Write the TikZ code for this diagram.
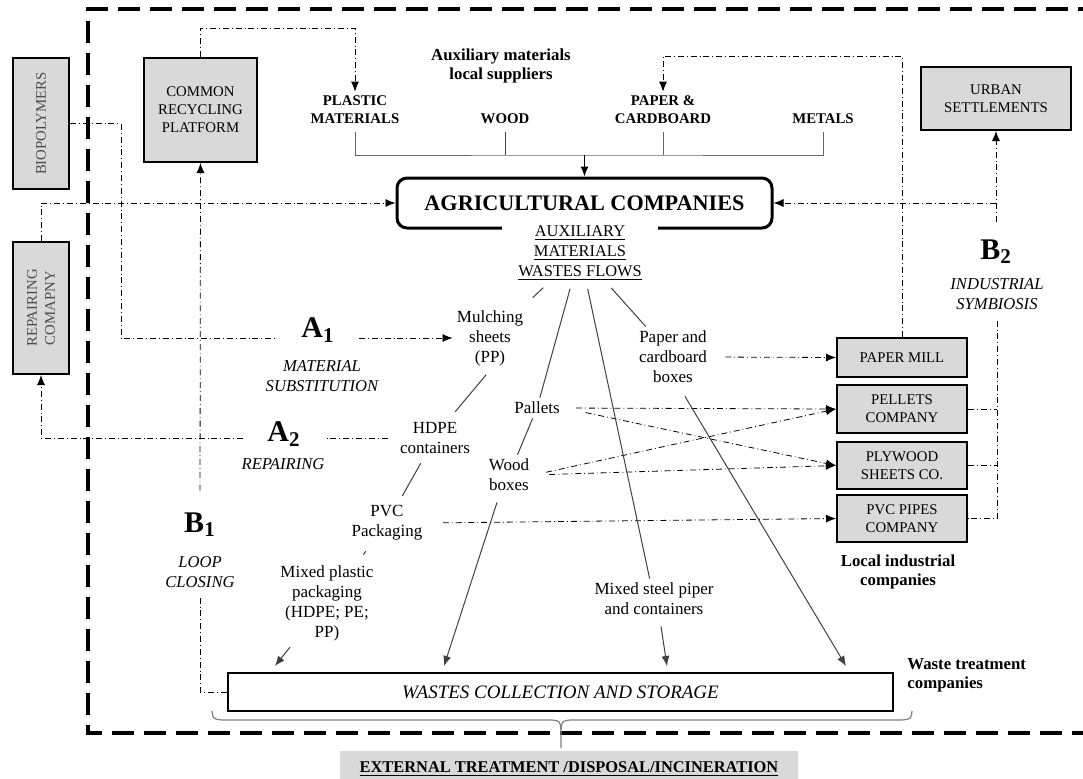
\documentclass[tikz,border=0pt]{standalone}
\usepackage{fontspec}
\setmainfont{Liberation Serif}
\usetikzlibrary{arrows.meta}

\definecolor{boxgray}{HTML}{D9D9D9}
\newcommand{\fsz}[2]{\fontsize{#1}{#2}\selectfont}

\tikzset{
  gbox/.style={draw, line width=1pt, fill=boxgray, inner sep=0pt, align=center, font=\fsz{7.4}{9}},
  txt/.style={align=center, inner sep=2pt, font=\fsz{8.5}{10}},
  btxt/.style={align=center, inner sep=2pt, font=\fsz{8.4}{9.5}\bfseries},
  ctxt/.style={align=center, inner sep=2pt, font=\fsz{7.4}{9}\bfseries},
  itxt/.style={align=center, inner sep=2pt, font=\fsz{8.3}{9.6}\itshape},
  big/.style={inner xsep=12pt, inner ysep=2pt, font=\fsz{15}{17}\bfseries},
  dd/.style={line width=0.4pt, dash pattern=on 3pt off 1.5pt on 0.4pt off 1.5pt},
  tip/.style={-{Latex[length=5pt,width=4pt]}},
  sline/.style={draw=black!75, line width=0.5pt},
  gline/.style={draw=black!60, line width=0.5pt},
}

\begin{document}
\begin{tikzpicture}[x=0.5pt, y=-0.5pt]
  \useasboundingbox (0,0) rectangle (1083,778);
  \clip (0,0) rectangle (1083,778);

  % outer frame
  \draw[line width=1.8pt, dash pattern=on 11pt off 5pt] (1100,9) -- (88,9) -- (88,733) -- (1100,733);

  % grey boxes
  \node[gbox, minimum width=28pt, minimum height=65.5pt] (bio) at (41,123.5) {};
  \node[rotate=90, font=\fsz{7.4}{9}, text=black!70] at (bio) {BIOPOLYMERS};
  \node[gbox, minimum width=28pt, minimum height=66pt] (rep) at (41,308) {};
  \node[rotate=90, align=center, font=\fsz{7.4}{9}, text=black!70] at (rep) {REPAIRING\\COMAPNY};
  \node[gbox, minimum width=56.5pt, minimum height=52pt] (crp) at (200.5,110) {COMMON\\RECYCLING\\PLATFORM};
  \node[gbox, minimum width=75pt, minimum height=31.5pt] (urban) at (996,98.5) {URBAN\\SETTLEMENTS};
  \node[gbox, minimum width=65pt, minimum height=19.5pt] (pmill) at (902,357.5) {PAPER MILL};
  \node[gbox, minimum width=65pt, minimum height=24pt] (pellets) at (902,409) {PELLETS\\COMPANY};
  \node[gbox, minimum width=65pt, minimum height=23.5pt] (plywood) at (902,465.5) {PLYWOOD\\SHEETS CO.};
  \node[gbox, minimum width=65pt, minimum height=23.5pt] (pvcpipes) at (902,518.5) {PVC PIPES\\COMPANY};

  % suppliers
  \node[btxt] (supp) at (501,66) {Auxiliary materials\\local suppliers};
  \node[ctxt] (plastic) at (355,110) {PLASTIC\\MATERIALS};
  \node[ctxt] (woodsup) at (505,119) {WOOD};
  \node[ctxt] (papercb) at (663,110) {PAPER \&\\CARDBOARD};
  \node[ctxt] (metals) at (823,119) {METALS};

  \node[draw, line width=1.5pt, rounded corners=5pt, minimum width=187.5pt, minimum height=25pt,
        font=\fsz{11.1}{13}\bfseries] (agri) at (584.5,203) {AGRICULTURAL COMPANIES};
  \node[txt, fill=white, inner xsep=8pt, inner ysep=2pt, font=\fsz{8.2}{10}] (aux) at (580,253)
    {\underline{AUXILIARY}\\\underline{MATERIALS}\\\underline{WASTES FLOWS}};

  \coordinate (hub) at (584.5,155);
  \draw[gline, shorten <=2pt, shorten >=2pt] (plastic.south) |- (hub) -| (metals.south);
  \draw[sline, shorten <=2pt] (woodsup.south) -- (woodsup.south |- hub);
  \draw[gline, shorten <=2pt] (papercb.south) -- (papercb.south |- hub);
  \draw[line width=0.6pt, tip] (hub) -- (agri.north);

  % waste flows
  \node[txt] (mulch) at (490,338) {Mulching\\sheets\\(PP)};
  \node[txt] (paper) at (673,357) {Paper and\\cardboard\\boxes};
  \node[txt] (pallets) at (537,408) {Pallets};
  \node[txt] (hdpe) at (435,438) {HDPE\\containers};
  \node[txt] (wood) at (509,475) {Wood\\boxes};
  \node[txt] (pvc) at (387,523) {PVC\\Packaging};
  \node[txt] (mixed) at (327,603) {Mixed plastic\\packaging\\(HDPE; PE;\\PP)};
  \node[txt] (steel) at (654,599) {Mixed steel piper\\and containers};

  \node[draw, line width=1pt, fill=white, minimum width=332.5pt, minimum height=19pt,
        font=\fsz{9.5}{11}\itshape] (wastes) at (560.5,692) {WASTES COLLECTION AND STORAGE};
  \node[fill=boxgray, minimum width=229pt, minimum height=18pt, font=\fsz{8.2}{10}\bfseries] (ext) at (569,769)
    {\underline{EXTERNAL TREATMENT /DISPOSAL/INCINERATION}};

  % strategies
  \node[big] (a1) at (318,330) {A\textsubscript{1}};
  \node[itxt] (a1t) at (322,376) {MATERIAL\\SUBSTITUTION};
  \node[big] (a2) at (284,434) {A\textsubscript{2}};
  \node[itxt] (a2t) at (283,464) {REPAIRING};
  \node[big] (b1) at (200,525) {B\textsubscript{1}};
  \node[itxt] (loop) at (200,572) {LOOP\\CLOSING};
  \node[big] (b2) at (996,252) {B\textsubscript{2}};
  \node[itxt] (sym) at (997,294) {INDUSTRIAL\\SYMBIOSIS};
  \node[btxt] (local) at (898,572) {Local industrial\\companies};
  \node[btxt, anchor=west, align=left] (wtc) at (903,675) {Waste treatment\\companies};

  % dash-dot flows
  \draw[dd, tip] (crp.north) -- ++(0,-29) -| (plastic.north);
  \draw[dd, tip] (pmill.north) -- ++(0,-281) -| (papercb.north);
  \draw[dd] (bio.east) -- ++(51,0) |- (mulch.west -| a1.west);
  \draw[dd, tip] (mulch.west -| a1.east) -- (mulch.west);
  \draw[dd, tip] (rep.north) |- (agri.west);
  \draw[dd, shorten <=4pt] (hdpe.west) -- (hdpe.west -| a2.east);
  \draw[dd, tip] (hdpe.west -| a2.west) -| (rep.south);
  \draw[dd, tip, shorten <=9pt] (b1.north) -- (crp.south);
  \draw[dd, shorten <=3pt] (loop.south) |- (wastes.west);
  \draw[dd, tip, shorten <=7pt] (b2.north) -- (urban.south);
  \draw[dd, tip] (urban.south |- agri.east) -- (agri.east);
  \draw[dd, shorten <=3.5pt] (sym.south) -- (sym.south |- pvcpipes.east) -- (pvcpipes.east);
  \draw[dd] (pellets.east) -- (pellets.east -| sym.south);
  \draw[dd] (plywood.east) -- (plywood.east -| sym.south);
  \draw[dd, tip, shorten <=7pt] (paper.east) -- (pmill.west);
  \draw[dd, tip, shorten <=6pt] (pallets.east) -- (pellets.west);
  \draw[dd, tip, shorten <=11pt] (pallets.east) -- (plywood.west);
  \draw[dd, tip, shorten <=6.5pt] (wood.east) -- (pellets.west);
  \draw[dd, tip, shorten <=8pt] (wood.east) -- (plywood.west);
  \draw[dd, tip, shorten <=8pt] (pvc.east) -- (pvcpipes.west);

  % solid flows
  \draw[sline, shorten <=2pt, shorten >=6pt] (aux) -- (mulch);
  \draw[sline, shorten <=2pt] (aux) -- (pallets);
  \draw[sline, shorten <=2pt] (aux) -- (steel);
  \draw[sline, shorten <=2pt] (aux) -- (paper);
  \draw[sline, shorten <=3pt, shorten >=4pt] (mulch.south) -- ([xshift=7.5pt]hdpe.north);
  \draw[sline, shorten <=3pt, shorten >=3pt] (hdpe) -- (pvc);
  \draw[sline, shorten <=4pt, shorten >=4pt] (pvc) -- (mixed);
  \draw[sline] (pallets) -- (wood);
  \draw[sline, tip] ([xshift=-18.5pt,yshift=-1pt]mixed.south) -- ([xshift=24pt,yshift=3pt]wastes.north west);
  \draw[sline, tip] ([xshift=-6pt,yshift=-3.5pt]wood.south) -- ([xshift=108.5pt,yshift=3pt]wastes.north west);
  \draw[sline, tip] ([xshift=3.5pt,yshift=-3.5pt]steel.south) -- ([xshift=220pt,yshift=3pt]wastes.north west);
  \draw[sline, tip] ([xshift=6pt,yshift=-4.5pt]paper.south) -- ([xshift=309.5pt,yshift=3pt]wastes.north west);

  % brace
  \draw[gray, line width=0.6pt] (212,711) .. controls (213,719) .. (222,720) -- (552,720)
    .. controls (560,721) .. (561,730) -- (561,748);
  \draw[gray, line width=0.6pt] (912,711) .. controls (911,719) .. (902,720) -- (570,720)
    .. controls (562,721) .. (561,730);
\end{tikzpicture}
\end{document}
